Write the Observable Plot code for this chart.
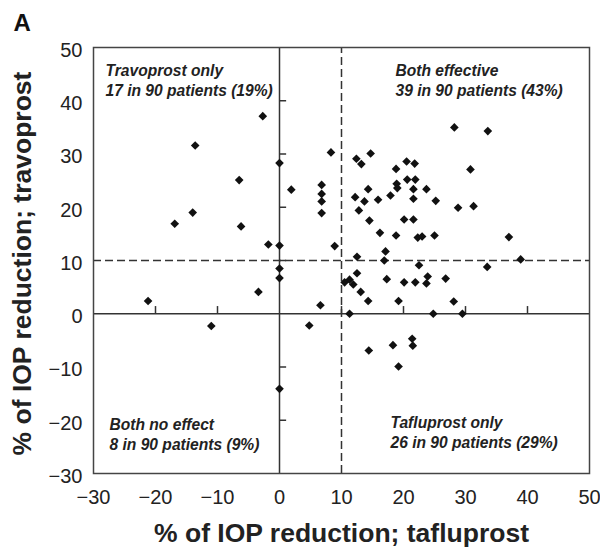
<!DOCTYPE html>
<html>
<head>
<meta charset="utf-8">
<script src="https://cdn.jsdelivr.net/npm/d3@7"></script>
<script src="https://cdn.jsdelivr.net/npm/@observablehq/plot@0.6"></script>
<style>
  body { margin: 0; background: #fff; }
  #chart svg { display: block; }
</style>
</head>
<body>
<div id="chart"></div>
<script>
// % IOP reduction with tafluprost (x) and travoprost (y), one entry per patient
const tafluprost = [
  -2.7, -13.6, 0, 8.3, -6.5, 1.9, 6.8, 6.8, 6.8, 6.8, -14.0, -16.9, -6.2, -1.8, 0, 8.9,
  0, 0, -3.4, -21.2, 6.6, -11.0, 4.8, 0,
  28.2, 33.6, 12.4, 13.2, 14.7, 18.8, 20.5, 21.8, 30.8, 18.9, 19.0, 20.6, 21.9, 21.6, 23.7, 14.3,
  12.2, 13.7, 15.9, 17.9, 21.6, 25.2, 28.8, 31.3, 12.8, 14.5, 20.1, 21.6, 16.2, 18.8, 22.3, 23.0,
  25.0, 37.0, 17.1, 12.5, 38.9, 16.9,
  22.5, 33.5, 12.5, 17.3, 20.1, 21.9, 23.9, 23.7, 26.8, 10.5, 11.3, 11.9, 13.1, 14.3, 19.2, 28.1,
  11.3, 24.8, 29.5, 21.4, 21.5, 18.3, 14.4, 19.2
];
const travoprost = [
  37.1, 31.6, 28.3, 30.3, 25.1, 23.3, 24.2, 22.5, 21.1, 18.9, 19.0, 16.9, 16.4, 13.0, 12.8, 12.7,
  8.5, 6.7, 4.1, 2.4, 1.6, -2.3, -2.2, -14.1,
  35.0, 34.3, 29.1, 28.1, 30.1, 27.2, 28.6, 28.2, 27.1, 24.4, 23.6, 25.2, 25.2, 23.4, 23.4, 23.4,
  21.9, 21.1, 21.4, 22.2, 21.6, 21.2, 19.9, 20.2, 19.4, 17.5, 17.7, 17.7, 15.2, 14.7, 14.3, 14.5,
  14.7, 14.4, 11.7, 10.7, 10.2, 10.0,
  9.1, 8.8, 7.6, 6.5, 5.9, 5.9, 7.0, 5.7, 6.6, 5.9, 6.4, 5.5, 4.1, 2.4, 2.4, 2.3,
  0, 0, 0, -4.7, -6.0, -5.9, -6.9, -9.9
];
const axisTicks = [-30, -20, -10, 0, 10, 20, 30, 40, 50];
const innerTicks = [-20, -10, 10, 20, 30, 40];
const threshold = [10];
const panelLabel = "A";
const xTitle = "% of IOP reduction; tafluprost";
const yTitle = "% of IOP reduction; travoprost";
const quadrantText = {
  travoOnly: "Travoprost only\n17 in 90 patients (19%)",
  both: "Both effective\n39 in 90 patients (43%)",
  none: "Both no effect\n8 in 90 patients (9%)",
  tafluOnly: "Tafluprost only\n26 in 90 patients (29%)"
};

const points = tafluprost.map((x, i) => ({x, y: travoprost[i]}));
const ink = "#333";
const annot = {fill: "#222", fontSize: 15.6, fontWeight: "bold", fontStyle: "italic", textAnchor: "start", lineAnchor: "top", lineHeight: 1.31, frameAnchor: "top-left"};

const chart = Plot.plot({
  width: 600,
  height: 548,
  marginLeft: 93,
  marginRight: 11,
  marginTop: 47,
  marginBottom: 75,
  style: {fontFamily: "'Liberation Sans', Arial, sans-serif", background: "#fff"},
  x: {domain: [-30, 50]},
  y: {domain: [-30, 50]},
  marks: [
    Plot.axisX(axisTicks, {anchor: "bottom", tickSize: 0, tickPadding: 16, fontSize: 20, fill: "#222", label: null}),
    Plot.axisY(axisTicks, {anchor: "left", tickSize: 0, tickPadding: 11, dy: 3, fontSize: 20, fill: "#222", label: null}),
    Plot.ruleY([0], {x1: -30, x2: 50, stroke: ink, strokeWidth: 1.5}),
    Plot.ruleX([0], {y1: -30, y2: 50, stroke: ink, strokeWidth: 1.5}),
    Plot.ruleX(innerTicks, {y1: 0, y2: 1.35, stroke: ink, strokeWidth: 1.5}),
    Plot.ruleY(innerTicks, {x1: 0, x2: 1.15, stroke: ink, strokeWidth: 1.5}),
    Plot.ruleY(threshold, {x1: -30, x2: 50, stroke: ink, strokeWidth: 1.5, strokeDasharray: "8,4"}),
    Plot.ruleX(threshold, {y1: -30, y2: 50, stroke: ink, strokeWidth: 1.5, strokeDasharray: "8,4"}),
    Plot.frame({stroke: "#444", strokeWidth: 1.5}),
    Plot.dot(points, {x: "x", y: "y", symbol: "diamond2", r: 3.9, fill: "#111", stroke: "none"}),
    Plot.text([quadrantText.travoOnly], {...annot, dx: 12, dy: 14}),
    Plot.text([quadrantText.both], {...annot, dx: 302, dy: 13.5}),
    Plot.text([quadrantText.none], {...annot, dx: 16, dy: 367.5}),
    Plot.text([quadrantText.tafluOnly], {...annot, dx: 297, dy: 366}),
    Plot.text([xTitle], {frameAnchor: "bottom", dy: 60, fontSize: 26.5, fontWeight: "bold", fill: "#222", lineAnchor: "middle"}),
    Plot.text([yTitle], {frameAnchor: "left", dx: -71, dy: 3, rotate: -90, fontSize: 26.5, fontWeight: "bold", fill: "#222", textAnchor: "middle", lineAnchor: "middle"}),
    Plot.text([panelLabel], {frameAnchor: "top-left", dx: -80, dy: -24, fontSize: 24, fontWeight: "bold", fill: "#111", textAnchor: "start", lineAnchor: "middle"})
  ]
});
document.getElementById("chart").appendChild(chart);
</script>
</body>
</html>
